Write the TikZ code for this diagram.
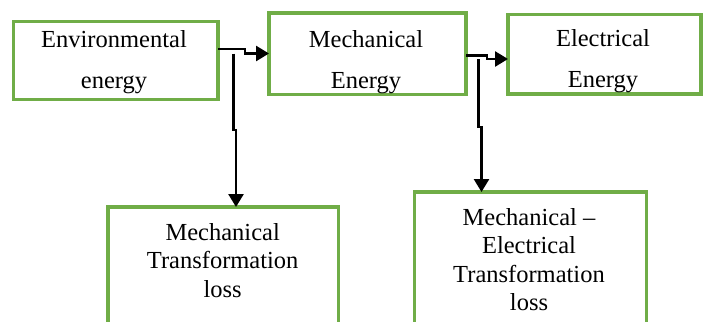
\documentclass[tikz,border=0pt]{standalone}
\usepackage{fontspec}
\setmainfont{Liberation Serif}
\usetikzlibrary{arrows.meta}
\definecolor{boxgreen}{HTML}{70AD47}
\begin{document}
\begin{tikzpicture}[x=1pt,y=-1pt,
  greenbox/.style={draw=boxgreen, line width=3.5pt, fill=none, inner sep=0pt, outer sep=0pt, anchor=north west},
  txt/.style={align=center, inner sep=0pt, font=\fontsize{24.5}{41}\selectfont},
  txtlow/.style={align=center, inner sep=0pt, font=\fontsize{24.5}{28.5}\selectfont},
  conn/.style={draw=black, line width=2.6pt, -{Triangle[length=13pt,width=15pt]}}
]
\useasboundingbox (0,0) rectangle (708,321);
% boxes
\node[greenbox, minimum width=204.5pt, minimum height=78pt] (env) at (13.5,21.5) {};
\node[greenbox, minimum width=197pt, minimum height=81.7pt] (mech) at (269,13) {};
\node[greenbox, minimum width=193pt, minimum height=79.3pt] (elec) at (508,14.7) {};
\node[greenbox, minimum width=230.7pt, minimum height=140pt] (loss1) at (108,207) {};
\node[greenbox, minimum width=232pt, minimum height=150pt] (loss2) at (414.3,192) {};
% texts
\node[txt] (envt) at (114,61.9) {Environmental\\energy};
\node[txt] (mecht) at (366,61.9) {Mechanical\\Energy};
\node[txt] (elect) at (603,61.4) {Electrical\\Energy};
\node[txtlow] (loss1t) at (222.7,260.3) {Mechanical\\Transformation\\loss};
\node[txtlow] (loss2t) at (529,259.5) {Mechanical --\\Electrical\\Transformation\\loss};
% connector 1
\coordinate (a1) at (245,49);
\coordinate (a2) at (245,53.5);
\coordinate (b1) at (233.5,53.5);
\coordinate (b2) at (233.5,130);
\coordinate (b3) at (236,130);
\draw[conn] (env.east |- a1) -- (a1) -- (a2) -- (mech.west |- a2);
\draw[conn] (b1) -- (b2) -- (b3) -- (loss1.north -| b3);
% connector 2
\coordinate (c1) at (487,55.7);
\coordinate (c2) at (487,59);
\coordinate (d1) at (478.5,59);
\coordinate (d2) at (478.5,127);
\coordinate (d3) at (481.5,127);
\draw[conn] (mech.east |- c1) -- (c1) -- (c2) -- (elec.west |- c2);
\draw[conn] (d1) -- (d2) -- (d3) -- (loss2.north -| d3);
\end{tikzpicture}
\end{document}
